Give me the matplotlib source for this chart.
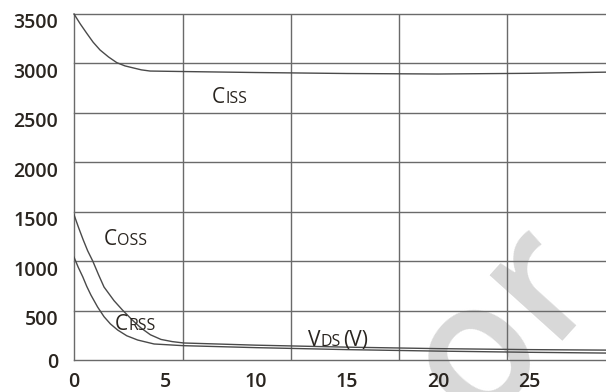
import matplotlib
matplotlib.use("Agg")
import matplotlib.pyplot as plt

plt.rcParams['font.family'] = ['Open Sans', 'DejaVu Sans']

# capacitance (pF) vs drain-source voltage (V)
ciss_v = [0, 0.35, 0.7, 1.05, 1.43, 1.9, 2.35, 2.8, 3.27, 3.7, 4.18, 6, 10, 15, 20, 25, 29.3]
ciss = [3500, 3398, 3305, 3215, 3136, 3065, 3008, 2975, 2954, 2935, 2923, 2918, 2908, 2898, 2893, 2900, 2912]

coss_v = [0, 0.25, 0.5, 0.75, 1.03, 1.35, 1.65, 2.2, 2.66, 3.2, 3.68, 4.2, 4.78, 5.4, 6.04, 10, 15, 20, 25, 29.3]
coss = [1470, 1340, 1218, 1105, 1001, 862, 738, 600, 506, 405, 324, 255, 208, 186, 172, 150, 130, 115, 105, 100]

crss_v = [0, 0.24, 0.48, 0.7, 0.93, 1.3, 1.65, 2.0, 2.4, 2.9, 3.5, 4.4, 6, 10, 15, 20, 25, 29.3]
crss = [1040, 935, 842, 745, 657, 535, 438, 365, 303, 245, 202, 162, 145, 125, 105, 90, 78, 70]

x_labels = ['0', '5', '10', '15', '20', '25']
x_label_vals = [0, 5, 10, 15, 20, 25]
y_label_vals = [0, 500, 1000, 1500, 2000, 2500, 3000, 3500]

# the grid of the original sheet does not sit on the labelled values
grid_x = [5.99, 11.92, 17.86, 23.80]
grid_y = [500, 1000, 1500, 2000, 2500, 3000, 3500]

grid_col = '#6a6a6a'
line_col = '#4a4a4a'
txt_col = '#2a2520'

fig = plt.figure(figsize=(6.06, 3.92), dpi=100)
ax = fig.add_axes([74 / 606, 32 / 392, 532 / 606, 346 / 392])
ax.set_xlim(0, 29.23)
ax.set_ylim(0, 3500)

for s in ['top', 'right']:
    ax.spines[s].set_visible(False)
for s in ['left', 'bottom']:
    ax.spines[s].set_color(grid_col)
    ax.spines[s].set_linewidth(1.0)

for gx in grid_x:
    ax.axvline(gx, color=grid_col, lw=1.0, zorder=2)
for gy in grid_y:
    ax.axhline(gy, color=grid_col, lw=1.0, zorder=2, clip_on=False)

# faint watermark behind the grid
ax.text(0.81, 0.10, 'or', transform=ax.transAxes, fontsize=130, fontweight='semibold',
        color='#d8d8d8', rotation=48, ha='center', va='center', zorder=0,
        clip_on=False)

ax.plot(ciss_v, ciss, color=line_col, lw=1.0, zorder=3, clip_on=False)
ax.plot(coss_v, coss, color=line_col, lw=1.0, zorder=3)
ax.plot(crss_v, crss, color=line_col, lw=1.0, zorder=3)

ax.set_xticks(x_label_vals, x_labels)
ytick_pos = [v - 70 if v else v for v in y_label_vals]
ax.set_yticks(ytick_pos, [str(v) for v in y_label_vals])
ax.tick_params(length=0, labelsize=14, labelcolor=txt_col)
ax.tick_params(axis='x', pad=8.5)
ax.tick_params(axis='y', pad=11.5)
for lab in ax.get_xticklabels() + ax.get_yticklabels():
    lab.set_fontweight('semibold')


def curve_label(x, y, big, small, dx, tail=None, dtail=0):
    ax.text(x, y, big, fontsize=15, color=txt_col, va='baseline', ha='left', zorder=4)
    ax.annotate(small, (x, y), xytext=(dx, 0), textcoords='offset points',
                fontsize=11.5, color=txt_col, va='baseline', ha='left', zorder=4)
    if tail:
        ax.annotate(tail, (x, y), xytext=(dtail, 0), textcoords='offset points',
                    fontsize=15, color=txt_col, va='baseline', ha='left', zorder=4)


curve_label(7.58, 2600, 'C', 'ISS', 10.0)
curve_label(1.61, 1163, 'C', 'OSS', 10.0)
curve_label(2.25, 303, 'C', 'RSS', 10.0)
curve_label(12.86, 142, 'V', 'DS', 9.0, '(V)', 25.0)

fig.savefig('out.png', dpi=100)
